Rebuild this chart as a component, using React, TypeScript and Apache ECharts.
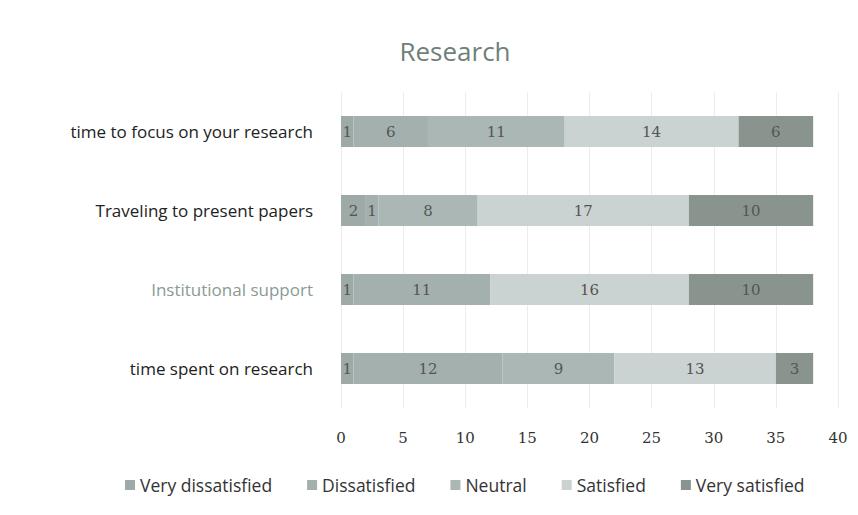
import React, { useEffect, useRef } from "react";
import * as echarts from "echarts";

const categories = [
  "time spent on research",
  "Institutional support",
  "Traveling to present papers",
  "time to focus on your research",
];
const seriesNames = ["Very dissatisfied", "Dissatisfied", "Neutral", "Satisfied", "Very satisfied"];
const veryDissatisfied = [1, 1, 2, 1];
const dissatisfied = [12, 11, 1, 6];
const neutral = [9, 0, 8, 11];
const satisfied = [13, 16, 17, 14];
const verySatisfied = [3, 10, 10, 6];
const xTicks = [0, 5, 10, 15, 20, 25, 30, 35, 40];

const colors = ["#9eaaa7", "#a4b0ad", "#abb7b4", "#cad3d1", "#89948f"];

export default function App() {
  const ref = useRef<HTMLDivElement>(null);
  useEffect(() => {
    if (!ref.current) return;
    const chart = echarts.init(ref.current, null, { renderer: "svg" });
    const data = [veryDissatisfied, dissatisfied, neutral, satisfied, verySatisfied];
    chart.setOption({
      animation: false,
      backgroundColor: "#ffffff",
      title: {
        text: "Research",
        left: 450,
        top: 33,
        textAlign: "center",
        textStyle: { fontFamily: "Open Sans", fontSize: 26, fontWeight: "normal", color: "#6f7f7a" },
      },
      legend: {
        bottom: 16,
        left: 120,
        itemWidth: 10,
        itemHeight: 10,
        itemGap: 35,
        icon: "rect",
        textStyle: { fontFamily: "Open Sans", fontSize: 17.5, color: "#333" },
        data: seriesNames,
      },
      grid: { left: 341, right: 20, top: 92, bottom: 107 },
      xAxis: {
        type: "value",
        min: xTicks[0],
        max: xTicks[xTicks.length - 1],
        interval: 5,
        axisLine: { show: false },
        axisTick: { show: false },
        splitLine: { show: true, lineStyle: { color: "#ececec" } },
        axisLabel: { fontFamily: "DejaVu Serif", fontSize: 15, color: "#333", margin: 22 },
      },
      yAxis: {
        type: "category",
        data: categories,
        axisLine: { show: false },
        axisTick: { show: false },
        axisLabel: {
          fontFamily: "Open Sans",
          fontSize: 17,
          margin: 28,
          color: (v: string) => (v === "Institutional support" ? "#8a9a96" : "#222"),
        },
      },
      series: seriesNames.map((name, i) => ({
        name,
        type: "bar",
        stack: "total",
        barWidth: 31,
        itemStyle: { color: colors[i] },
        label: {
          show: true,
          position: "inside",
          fontFamily: "DejaVu Serif",
          fontSize: 15,
          color: "#555",
          formatter: (p: any) => (p.value ? String(p.value) : ""),
        },
        data: data[i],
      })),
    });
    return () => chart.dispose();
  }, []);
  return (
    <div
      ref={ref}
      style={{ position: "fixed", left: 0, top: 0, width: 858, height: 515, background: "#fff" }}
    />
  );
}
